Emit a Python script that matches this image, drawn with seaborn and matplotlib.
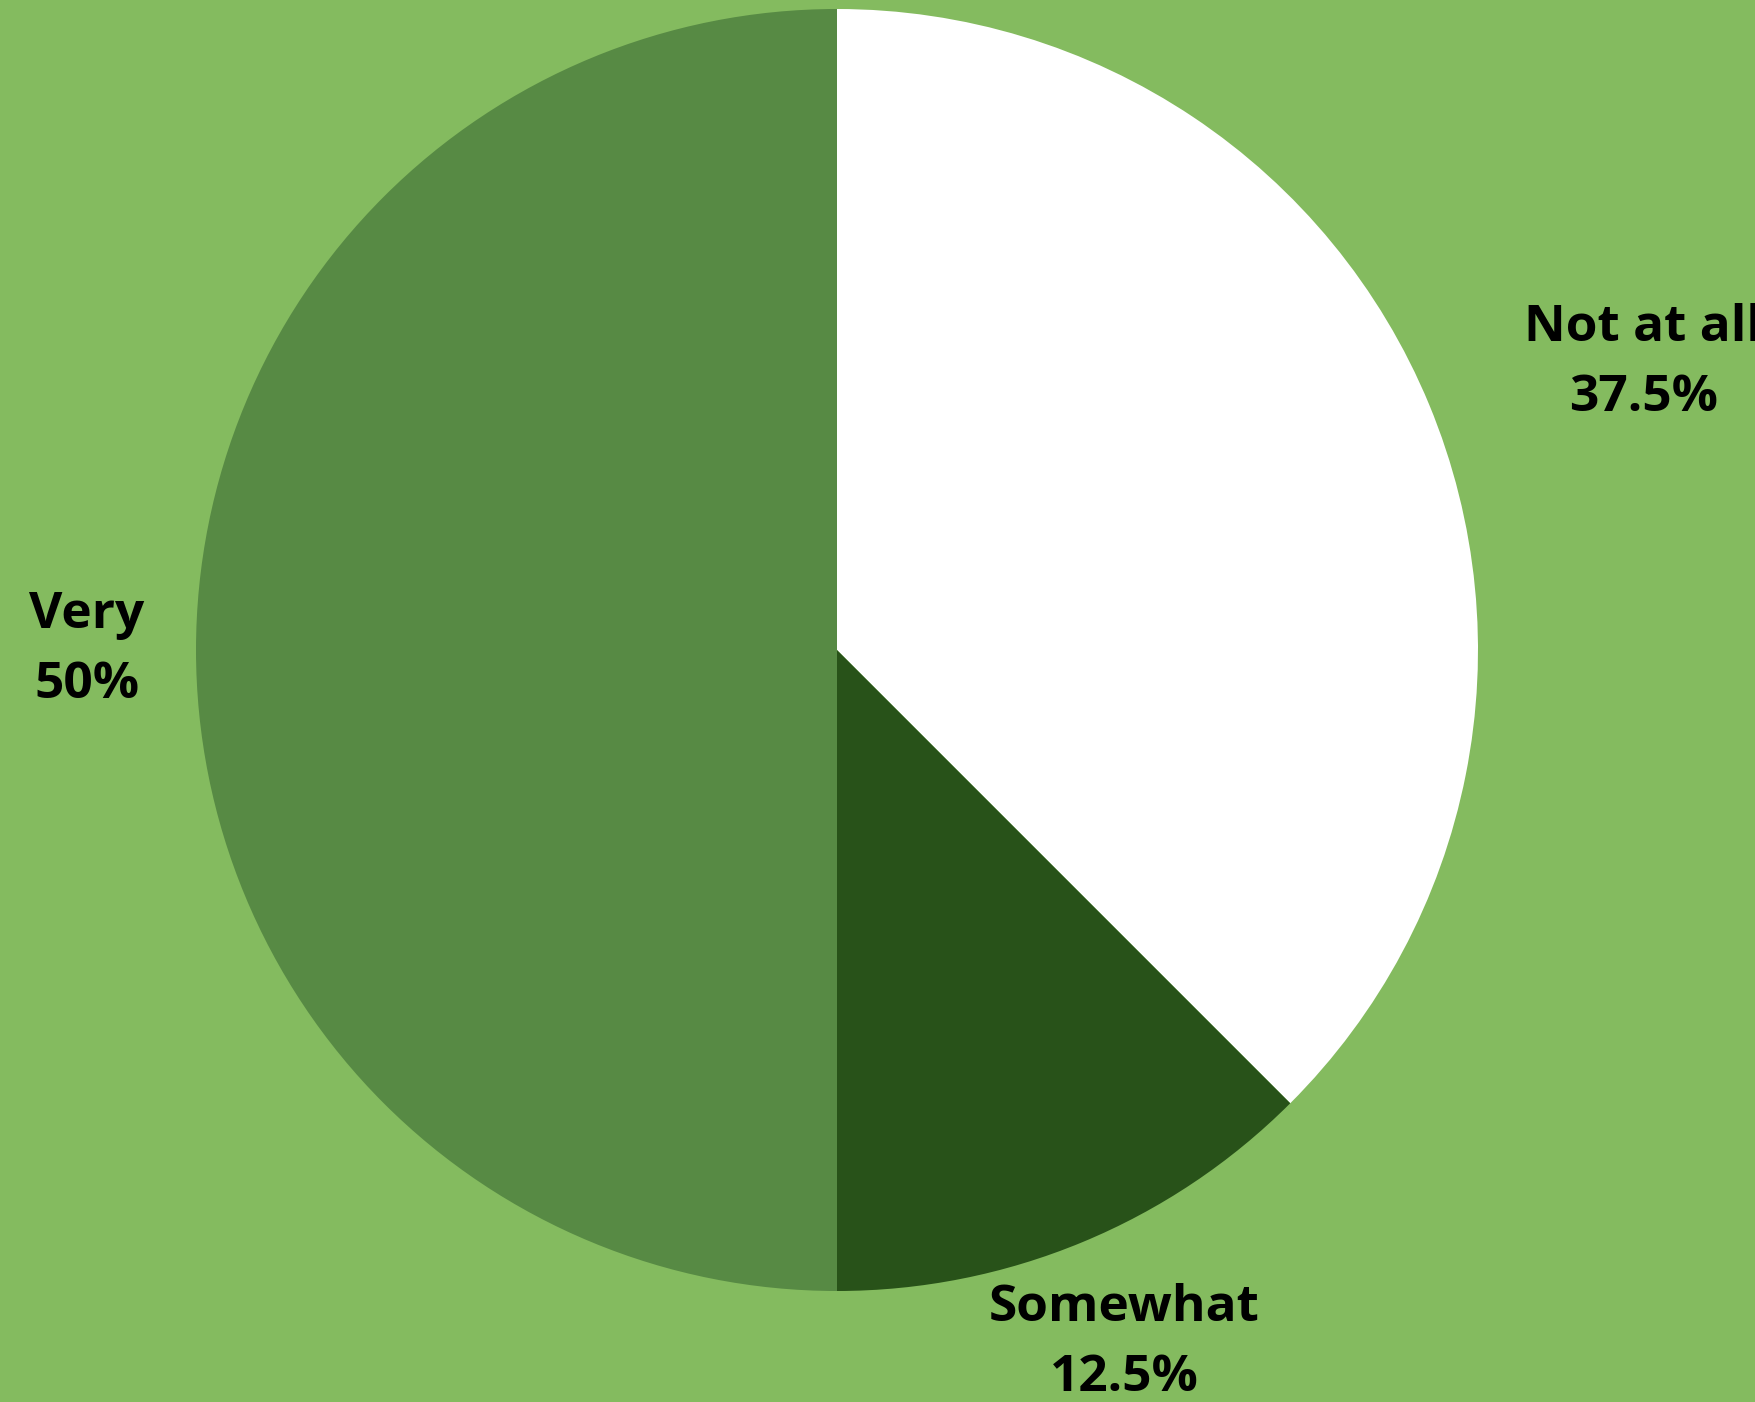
import numpy as np
import matplotlib
matplotlib.use("Agg")
import matplotlib.pyplot as plt
import seaborn as sns

# ===================== Data =====================
labels = ["Not at all", "Somewhat", "Very"]
values = [37.5, 12.5, 50.0]
pct_text = ["37.5%", "12.5%", "50%"]
colors = ["#FFFFFF", "#285219", "#578A44"]
label_dist = [1.335, 1.17, 1.17]
label_shift = [-2.9, 0.0, 0.0]   # degrees, nudge from the wedge middle

bg = "#84BB5F"

sns.set_theme(style="white")
plt.rcParams['font.family'] = ['Open Sans', 'DejaVu Sans']

W, H = 1756, 1402
fig = plt.figure(figsize=(W / 100, H / 100), dpi=100, facecolor=bg)
ax = fig.add_axes([0, 0, 1, 1])
ax.set_facecolor(bg)

wedges, _ = ax.pie(values, colors=colors, startangle=90, counterclock=False,
                   radius=1.0, wedgeprops=dict(linewidth=0))

# labels at the middle angle of each wedge
for w, lab, pct, d, sh in zip(wedges, labels, pct_text, label_dist, label_shift):
    ang = np.deg2rad((w.theta1 + w.theta2) / 2 + sh)
    ax.text(d * np.cos(ang), d * np.sin(ang), f"{lab}\n{pct}",
            ha="center", va="center", fontsize=37, fontweight="bold",
            color="#000000", linespacing=1.52)

# place the pie: centre at (837, 650) px from top-left, radius 641 px
r_px, cx, cy = 641, 837, 650
ax.set_aspect("auto")
ax.set_xlim(-cx / r_px, (W - cx) / r_px)
ax.set_ylim(-(H - cy) / r_px, cy / r_px)
ax.axis("off")

fig.savefig("out.png", dpi=100, facecolor=bg)
